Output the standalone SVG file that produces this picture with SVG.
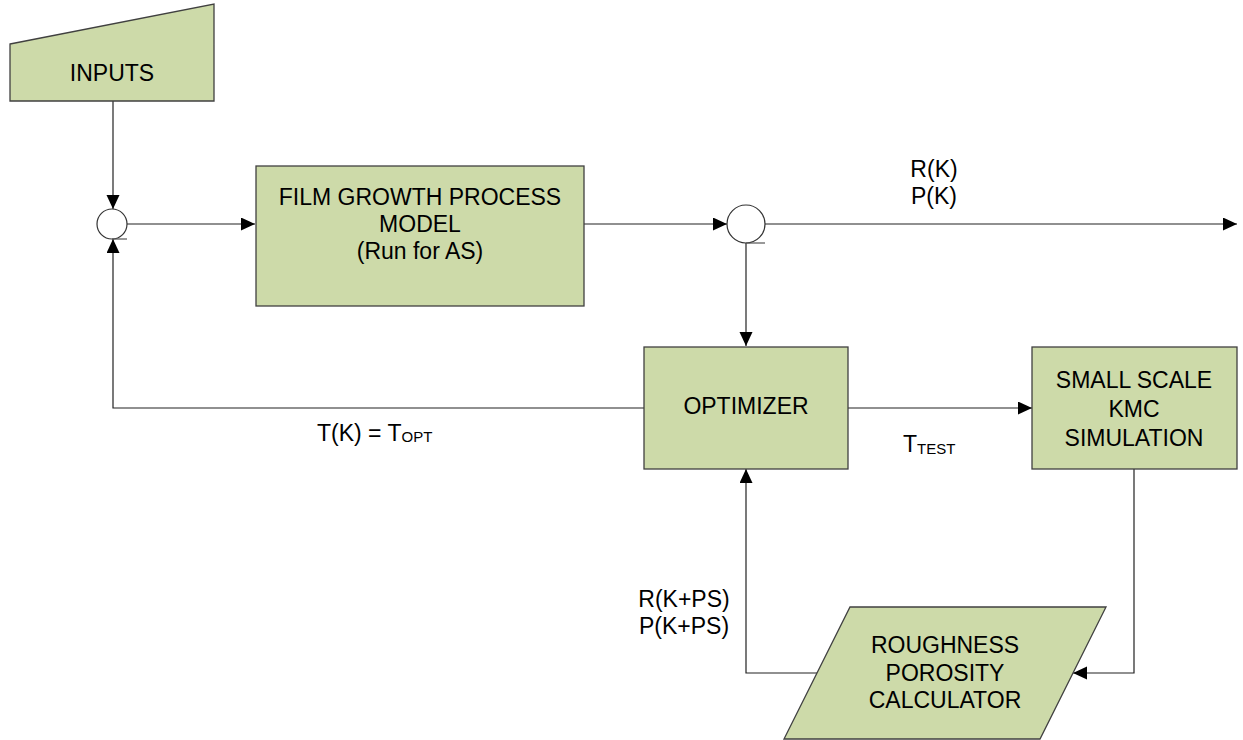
<svg xmlns="http://www.w3.org/2000/svg" width="1243" height="740" viewBox="0 0 1243 740">
  <defs>
    <marker id="arrow" markerUnits="userSpaceOnUse" markerWidth="15" markerHeight="14" refX="14" refY="6.5" orient="auto">
      <path d="M0,0 L14,6.5 L0,13 Z" fill="#000"/>
    </marker>
    <style>
      .shape { fill: #cddaa9; stroke: #404040; stroke-width: 1.3; }
      .junction { fill: #fff; stroke: #333; stroke-width: 1.2; }
      .tick { stroke: #555; stroke-width: 1.2; fill: none; }
      .wire { fill: none; stroke: #222; stroke-width: 1.2; }
      .arrowed { marker-end: url(#arrow); }
      text { font-family: "Liberation Sans", Arial, sans-serif; font-size: 23px; fill: #000; }
      .c { text-anchor: middle; }
      .sub { font-size: 15px; }
    </style>
  </defs>
  <rect width="1243" height="740" fill="#fff"/>

  <!-- connectors -->
  <g id="connectors">
    <path class="wire arrowed" d="M113,101 V209"/>
    <path class="wire arrowed" d="M127,224 H255"/>
    <path class="wire arrowed" d="M584,224 H727"/>
    <path class="wire arrowed" d="M765,224 H1237"/>
    <path class="wire arrowed" d="M746,243 V346"/>
    <path class="wire arrowed" d="M644,408 H113 V239"/>
    <path class="wire arrowed" d="M848,408 H1032"/>
    <path class="wire arrowed" d="M1134,469 V673 H1073"/>
    <path class="wire arrowed" d="M817,673 H746 V469"/>
  </g>

  <!-- manual input -->
  <g id="inputs">
    <polygon class="shape" points="10,44 214,4 214,101 10,101"/>
    <text class="c" x="112" y="81">INPUTS</text>
  </g>

  <!-- summing junctions -->
  <g id="sum1">
    <circle class="junction" cx="112" cy="224" r="15"/>
    <path class="tick" d="M112,239 H127"/>
  </g>
  <g id="sum2">
    <circle class="junction" cx="746" cy="224" r="19"/>
    <path class="tick" d="M746,243 H765"/>
  </g>

  <g id="film-model">
    <rect class="shape" x="256" y="166" width="328" height="140"/>
    <text class="c" x="420" y="205">FILM GROWTH PROCESS</text>
    <text class="c" x="420" y="232">MODEL</text>
    <text class="c" x="420" y="259">(Run for AS)</text>
  </g>

  <g id="optimizer">
    <rect class="shape" x="644" y="347" width="204" height="122"/>
    <text class="c" x="746" y="414">OPTIMIZER</text>
  </g>

  <g id="kmc">
    <rect class="shape" x="1032" y="347" width="205" height="122"/>
    <text class="c" x="1134" y="388">SMALL SCALE</text>
    <text class="c" x="1134" y="417">KMC</text>
    <text class="c" x="1134" y="446">SIMULATION</text>
  </g>

  <g id="calculator">
    <polygon class="shape" points="850,607 1106,607 1040,739 784,739"/>
    <text class="c" x="945" y="653">ROUGHNESS</text>
    <text class="c" x="945" y="681">POROSITY</text>
    <text class="c" x="945" y="708">CALCULATOR</text>
  </g>

  <!-- signal labels -->
  <g id="labels">
    <text class="c" x="934" y="177">R(K)</text>
    <text class="c" x="934" y="204">P(K)</text>
    <text x="317" y="441">T(K) = T<tspan class="sub" dy="1">OPT</tspan></text>
    <text x="903" y="452">T<tspan class="sub" dy="2">TEST</tspan></text>
    <text class="c" x="684" y="607">R(K+PS)</text>
    <text class="c" x="684" y="634">P(K+PS)</text>
  </g>
</svg>
